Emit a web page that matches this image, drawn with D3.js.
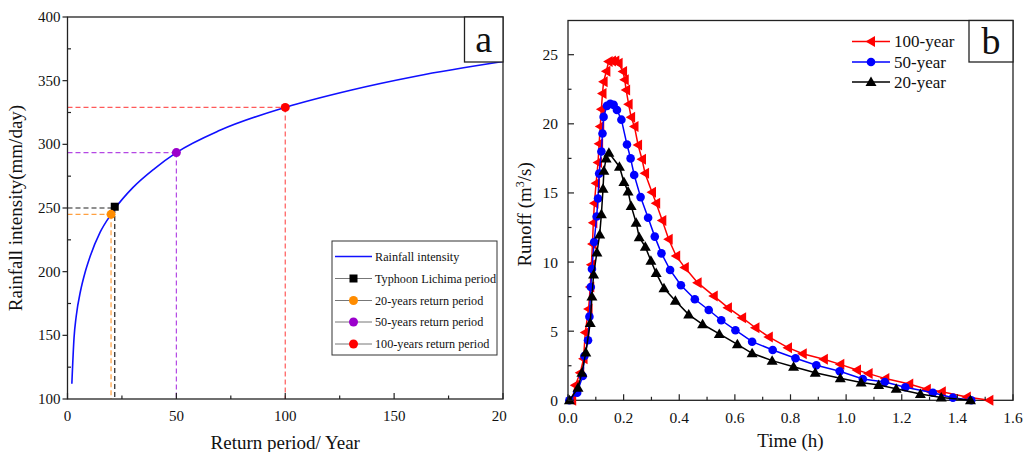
<!DOCTYPE html>
<html><head><meta charset="utf-8">
<script src="https://cdn.jsdelivr.net/npm/d3@7"></script>
<style>body{margin:0;background:#fff}svg{display:block}text{font-family:"Liberation Serif","Times New Roman",serif;fill:#111}</style>
</head><body><svg id="c" width="1024" height="452"></svg>
<script>
// ---- Panel a data ----
const curveT = [2, 3, 4, 6, 8, 10, 15, 20, 22, 30, 40, 50, 70, 100, 130, 160, 200];
const curveI = [112, 148, 165, 185, 199, 210, 231, 245, 250, 266, 281, 293.5, 311, 329, 342.5, 353.5, 365];
const markNames = ["Typhoon Lichima period", "20-years return period", "50-years return period", "100-years return period"];
const markT = [21.7, 20, 50, 100];
const markI = [251, 245, 293.5, 329];
const markGuideI = [250, 245, 293.5, 329];
const markColors = ["#000000", "#ff8c00", "#9b00cc", "#ff0000"];
const markGuideColors = ["#222222", "#ffa040", "#b448e4", "#ff5a5a"];
const aXTicks = [0, 50, 100, 150, 200];
const aYTicks = [100, 150, 200, 250, 300, 350, 400];

// ---- Panel b data ----
const t100 = [0.015,0.026,0.044,0.056,0.062,0.074,0.08,0.084,0.088,0.091,0.095,0.101,0.108,0.112,0.116,0.12,0.124,0.128,0.138,0.146,0.158,0.17,0.182,0.198,0.204,0.209,0.218,0.227,0.239,0.252,0.266,0.277,0.302,0.317,0.339,0.362,0.389,0.42,0.466,0.524,0.575,0.626,0.674,0.722,0.791,0.844,0.92,0.979,1.039,1.081,1.141,1.227,1.29,1.344,1.434,1.515];
const q100 = [0,1.08,2.0,3.0,4.9,6.6,8.2,9.8,11.3,12.85,14.25,15.7,17.2,18.55,19.8,21.05,22.2,23.05,23.8,24.5,24.55,24.55,24.38,23.78,23.18,22.45,21.42,20.48,19.8,18.47,17.44,16.43,15.05,14.25,13.0,11.65,10.44,9.6,8.51,7.55,6.7,5.98,5.25,4.58,3.81,3.37,2.97,2.6,2.19,1.93,1.57,1.18,0.8,0.62,0.24,0];
const t50 = [0.005,0.033,0.053,0.059,0.072,0.077,0.082,0.086,0.094,0.103,0.108,0.112,0.12,0.124,0.128,0.14,0.152,0.164,0.176,0.192,0.212,0.225,0.238,0.261,0.288,0.312,0.336,0.367,0.406,0.456,0.506,0.551,0.602,0.662,0.736,0.818,0.893,0.977,1.06,1.139,1.213,1.312,1.384,1.45];
const q50 = [0,0.55,1.76,3.2,4.34,6.05,8.2,9.5,11.45,13.3,14.6,16.4,18.0,19.3,20.5,21.3,21.45,21.37,21.0,20.3,18.5,17.5,16.3,14.7,13.2,11.84,10.63,9.43,8.32,7.31,6.53,5.79,5.07,4.24,3.64,3.04,2.53,2.1,1.54,1.32,0.94,0.55,0.19,0];
const t20 = [0.005,0.036,0.05,0.064,0.08,0.086,0.092,0.104,0.114,0.12,0.126,0.129,0.137,0.147,0.185,0.201,0.216,0.227,0.245,0.256,0.278,0.298,0.317,0.345,0.386,0.434,0.484,0.544,0.609,0.662,0.734,0.811,0.889,0.979,1.054,1.117,1.18,1.267,1.342,1.447];
const q20 = [0,0.9,2.0,3.45,5.6,7.5,9.1,10.7,12.0,13.45,15.3,16.6,17.5,17.9,16.9,15.8,15.1,14.06,12.85,11.8,11.1,10.1,9.2,8.1,7.2,6.2,5.5,4.8,4.05,3.4,2.87,2.43,2.0,1.6,1.28,1.1,0.84,0.46,0.2,0];
const seriesNames = ["100-year", "50-year", "20-year"];
const seriesColors = ["#ff0000", "#0000ff", "#000000"];
const bXTicks = [0, 0.2, 0.4, 0.6, 0.8, 1.0, 1.2, 1.4, 1.6];
const bYTicks = [0, 5, 10, 15, 20, 25];

const svg = d3.select("#c");
svg.append("defs").append("clipPath").attr("id","clipA").append("rect").attr("x",0).attr("y",0).attr("width",507).attr("height",452);

// ===== Panel a =====
const A = {l:67.5, r:503, t:17, b:399};
const ax = d3.scaleLinear().domain([0,200]).range([A.l, A.r]);
const ay = d3.scaleLinear().domain([100,400]).range([A.b, A.t]);
const ga = svg.append("g").attr("clip-path","url(#clipA)");

markT.forEach((t,i)=>{
  ga.append("line").attr("x1",ax(0)).attr("x2",ax(t)).attr("y1",ay(markGuideI[i])).attr("y2",ay(markGuideI[i]))
    .attr("stroke",markGuideColors[i]).attr("stroke-width",1.2).attr("stroke-dasharray","5,3");
  ga.append("line").attr("x1",ax(t)).attr("x2",ax(t)).attr("y1",ay(markGuideI[i])).attr("y2",ay(100))
    .attr("stroke",markGuideColors[i]).attr("stroke-width",1.2).attr("stroke-dasharray","5,3");
});
const cdata = curveT.map((t,i)=>[t,curveI[i]]);
ga.append("path").datum(cdata).attr("fill","none").attr("stroke","#1010ff").attr("stroke-width",1.6)
  .attr("d", d3.line().x(d=>ax(d[0])).y(d=>ay(d[1])).curve(d3.curveMonotoneX));
markT.forEach((t,i)=>{
  if(i===0){
    ga.append("rect").attr("x",ax(t)-4).attr("y",ay(markI[i])-4).attr("width",8).attr("height",8).attr("fill",markColors[i]);
  } else {
    ga.append("circle").attr("cx",ax(t)).attr("cy",ay(markI[i])).attr("r",4.5).attr("fill",markColors[i]);
  }
});
ga.append("rect").attr("x",A.l).attr("y",A.t).attr("width",A.r-A.l).attr("height",A.b-A.t).attr("fill","none").attr("stroke","#222").attr("stroke-width",1.3);
const axMinor = d3.range(25,200,50);
aXTicks.forEach(v=>{
  ga.append("line").attr("x1",ax(v)).attr("x2",ax(v)).attr("y1",A.b).attr("y2",A.b-6).attr("stroke","#222").attr("stroke-width",1.2);
  ga.append("text").attr("x",ax(v)).attr("y",A.b+22).attr("text-anchor","middle").attr("font-size",15).text(v);
});
axMinor.forEach(v=>{
  ga.append("line").attr("x1",ax(v)).attr("x2",ax(v)).attr("y1",A.b).attr("y2",A.b-3.5).attr("stroke","#222").attr("stroke-width",1.2);
});
const ayMinor = d3.range(125,400,50);
aYTicks.forEach(v=>{
  ga.append("line").attr("x1",A.l).attr("x2",A.l-5).attr("y1",ay(v)).attr("y2",ay(v)).attr("stroke","#222").attr("stroke-width",1.2);
  ga.append("text").attr("x",A.l-7).attr("y",ay(v)+5).attr("text-anchor","end").attr("font-size",15).text(v);
});
ayMinor.forEach(v=>{
  ga.append("line").attr("x1",A.l).attr("x2",A.l+3.5).attr("y1",ay(v)).attr("y2",ay(v)).attr("stroke","#222").attr("stroke-width",1.2);
});
ga.append("text").attr("x",ax(100)).attr("y",449).attr("text-anchor","middle").attr("font-size",19).text("Return period/ Year");
ga.append("text").attr("transform",`translate(22,${(A.t+A.b)/2}) rotate(-90)`).attr("text-anchor","middle").attr("font-size",19).text("Rainfall intensity(mm/day)");
ga.append("rect").attr("x",464.5).attr("y",A.t).attr("width",A.r-464.5).attr("height",45).attr("fill","#fff").attr("stroke","#222").attr("stroke-width",1.3);
ga.append("text").attr("x",(464.5+A.r)/2).attr("y",A.t+35).attr("text-anchor","middle").attr("font-size",38).text("a");
const LA = {x:332, y:241, w:165, h:114};
ga.append("rect").attr("x",LA.x).attr("y",LA.y).attr("width",LA.w).attr("height",LA.h).attr("fill","#fff").attr("stroke","#333").attr("stroke-width",1);
const legY = [256.5, 278.5, 300.5, 322, 344];
ga.append("line").attr("x1",335).attr("x2",372).attr("y1",legY[0]).attr("y2",legY[0]).attr("stroke","#1010ff").attr("stroke-width",1.6);
ga.append("text").attr("x",375).attr("y",legY[0]+4.3).attr("font-size",12.2).text("Rainfall intensity");
markNames.forEach((n,i)=>{
  const y = legY[i+1];
  ga.append("line").attr("x1",335).attr("x2",372).attr("y1",y).attr("y2",y).attr("stroke","#777").attr("stroke-width",1);
  if(i===0) ga.append("rect").attr("x",349.5).attr("y",y-4).attr("width",8).attr("height",8).attr("fill",markColors[i]);
  else ga.append("circle").attr("cx",353.5).attr("cy",y).attr("r",4.5).attr("fill",markColors[i]);
  ga.append("text").attr("x",375).attr("y",y+4.3).attr("font-size",12.2).text(n);
});

// ===== Panel b =====
const B = {l:568, r:1013, t:20.5, b:400.3};
const bx = d3.scaleLinear().domain([0,1.6]).range([B.l, B.r]);
const by = d3.scaleLinear().domain([0,25]).range([B.b, 54.7]);
const gb = svg.append("g");
gb.append("rect").attr("x",B.l).attr("y",B.t).attr("width",B.r-B.l).attr("height",B.b-B.t).attr("fill","none").attr("stroke","#222").attr("stroke-width",1.3);

const series = [
  {t:t20, q:q20, c:seriesColors[2], m:"tri"},
  {t:t50, q:q50, c:seriesColors[1], m:"circ"},
  {t:t100, q:q100, c:seriesColors[0], m:"left"}
];
function marker(g, type, x, y, c){
  if(type==="circ") g.append("circle").attr("cx",x).attr("cy",y).attr("r",4.3).attr("fill",c);
  else if(type==="tri") g.append("path").attr("d",`M${x},${y-5.5}L${x+5.5},${y+4}L${x-5.5},${y+4}Z`).attr("fill",c);
  else g.append("path").attr("d",`M${x-5.5},${y}L${x+4},${y-5.5}L${x+4},${y+5.5}Z`).attr("fill",c);
}
const bline = d3.line().x(d=>bx(d[0])).y(d=>by(d[1]));
series.slice().reverse().forEach(s=>{
  const d = s.t.map((t,i)=>[t,s.q[i]]);
  gb.append("path").datum(d).attr("fill","none").attr("stroke",s.c).attr("stroke-width",1.5).attr("d",bline);
  d.forEach(p=>marker(gb, s.m, bx(p[0]), by(p[1]), s.c));
});
bXTicks.forEach(v=>{
  gb.append("line").attr("x1",bx(v)).attr("x2",bx(v)).attr("y1",B.b).attr("y2",B.b-6).attr("stroke","#222").attr("stroke-width",1.2);
  gb.append("text").attr("x",bx(v)).attr("y",B.b+23).attr("text-anchor","middle").attr("font-size",15.5).text(v.toFixed(1));
});
d3.range(0.1,1.6,0.2).forEach(v=>{
  gb.append("line").attr("x1",bx(v)).attr("x2",bx(v)).attr("y1",B.b).attr("y2",B.b-3.5).attr("stroke","#222").attr("stroke-width",1.2);
});
bYTicks.forEach(v=>{
  gb.append("line").attr("x1",B.l).attr("x2",B.l+6).attr("y1",by(v)).attr("y2",by(v)).attr("stroke","#222").attr("stroke-width",1.2);
  gb.append("text").attr("x",B.l-10).attr("y",by(v)+5.5).attr("text-anchor","end").attr("font-size",15.5).text(v);
});
[2.5,7.5,12.5,17.5,22.5].forEach(v=>{
  gb.append("line").attr("x1",B.l).attr("x2",B.l+3.5).attr("y1",by(v)).attr("y2",by(v)).attr("stroke","#222").attr("stroke-width",1.2);
});
gb.append("text").attr("x",bx(0.8)).attr("y",447).attr("text-anchor","middle").attr("font-size",19).text("Time (h)");
const yl = gb.append("text").attr("transform",`translate(531,${(B.t+B.b)/2+4}) rotate(-90)`).attr("text-anchor","middle").attr("font-size",19);
yl.append("tspan").text("Runoff (m");
yl.append("tspan").attr("font-size",12).attr("dy",-7).text("3");
yl.append("tspan").attr("dy",7).text("/s)");
gb.append("rect").attr("x",969).attr("y",B.t).attr("width",B.r-969).attr("height",41.5).attr("fill","#fff").attr("stroke","#222").attr("stroke-width",1.3);
gb.append("text").attr("x",(969+B.r)/2).attr("y",B.t+33).attr("text-anchor","middle").attr("font-size",38).text("b");
const legBY = [41.5, 62, 82];
const legTypes = ["left","circ","tri"];
seriesNames.forEach((n,i)=>{
  const y = legBY[i];
  gb.append("line").attr("x1",852).attr("x2",890).attr("y1",y).attr("y2",y).attr("stroke",seriesColors[i]).attr("stroke-width",1.5);
  marker(gb, legTypes[i], 871, y, seriesColors[i]);
  gb.append("text").attr("x",894).attr("y",y+5.5).attr("font-size",17).text(n);
});
</script></body></html>
